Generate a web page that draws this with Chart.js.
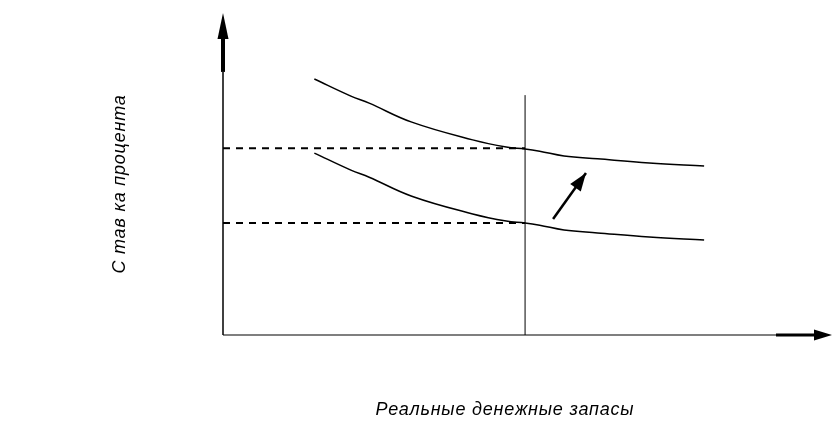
<!DOCTYPE html>
<html>
<head>
<meta charset="utf-8">
<script src="https://cdn.jsdelivr.net/npm/chart.js@4"></script>
<style>
  html, body { margin: 0; padding: 0; background: #fff; }
  #wrap { width: 832px; height: 421px; }
</style>
</head>
<body>
<div id="wrap"><canvas id="chart"></canvas></div>
<script>
// money demand curves (before and after shift), units 0..100 on both axes
const demandX = [15, 21, 24, 31, 41, 46.5, 49.6, 52, 56, 61.5, 70, 79];
const demandHigh = [79.5, 74.2, 72, 66.1, 60.6, 58.4, 57.8, 57.1, 55.6, 54.7, 53.4, 52.5];
const demandLow = [56.5, 51.2, 49, 43.1, 37.6, 35.4, 34.8, 34.1, 32.6, 31.7, 30.4, 29.5];
const supplyX = 49.6;
const supplyTop = 74.5;
const rateLevels = [58, 34.8];
const shiftFrom = [54.2, 36.0];
const shiftTo = [59.6, 50.3];
const xTitle = 'Реальные денежные запасы';
const yTitle = 'С тав ка процента';

const pts = (xs, ys) => xs.map((x, i) => ({ x, y: ys[i] }));

const line = (data, extra) => Object.assign({
    data,
    borderColor: '#000',
    borderWidth: 1.5,
    pointRadius: 0,
    fill: false,
    clip: false,
}, extra);

const datasets = [
    line(pts(demandX, demandHigh), { tension: 0.4 }),
    line(pts(demandX, demandLow), { tension: 0.4 }),
    line([{ x: supplyX, y: 0 }, { x: supplyX, y: supplyTop }], { borderWidth: 1 }),
    ...rateLevels.map((r) => line([{ x: 0, y: r }, { x: supplyX, y: r }], { borderDash: [7, 6], borderWidth: 2 })),
    line([{ x: shiftFrom[0], y: shiftFrom[1] }, { x: shiftTo[0], y: shiftTo[1] }], { borderWidth: 2.5 }),
];

function arrowHead(ctx, x0, y0, x1, y1, len, half) {
    const a = Math.atan2(y1 - y0, x1 - x0);
    ctx.beginPath();
    ctx.moveTo(x1, y1);
    ctx.lineTo(x1 - len * Math.cos(a) + half * Math.sin(a), y1 - len * Math.sin(a) - half * Math.cos(a));
    ctx.lineTo(x1 - len * Math.cos(a) - half * Math.sin(a), y1 - len * Math.sin(a) + half * Math.cos(a));
    ctx.closePath();
    ctx.fill();
}

const axesPlugin = {
    id: 'axes',
    afterDatasetsDraw(chart) {
        const { ctx, scales: { x, y } } = chart;
        const px = (v) => x.getPixelForValue(v);
        const py = (v) => y.getPixelForValue(v);
        ctx.save();
        ctx.strokeStyle = '#000';
        ctx.fillStyle = '#000';
        ctx.lineCap = 'butt';

        // vertical axis
        ctx.lineWidth = 1.5;
        ctx.beginPath();
        ctx.moveTo(px(0), py(0));
        ctx.lineTo(px(0), py(81.7));
        ctx.stroke();
        ctx.lineWidth = 4;
        ctx.beginPath();
        ctx.moveTo(px(0), py(81.7));
        ctx.lineTo(px(0), py(93));
        ctx.stroke();
        arrowHead(ctx, px(0), py(90), px(0), py(100), 26, 5.5);

        // horizontal axis
        ctx.lineWidth = 1.2;
        ctx.beginPath();
        ctx.moveTo(px(0), py(0));
        ctx.lineTo(px(90.8), py(0));
        ctx.stroke();
        ctx.lineWidth = 3;
        ctx.beginPath();
        ctx.moveTo(px(90.8), py(0));
        ctx.lineTo(px(97.5), py(0));
        ctx.stroke();
        arrowHead(ctx, px(95), py(0), px(100), py(0), 18, 5.5);

        // shift arrow head
        arrowHead(ctx, px(shiftFrom[0]), py(shiftFrom[1]), px(shiftTo[0]), py(shiftTo[1]), 18, 6.5);

        // titles
        ctx.font = 'italic 18px "Liberation Sans", Arial, sans-serif';
        ctx.letterSpacing = '0.8px';
        ctx.textAlign = 'center';
        ctx.textBaseline = 'middle';
        ctx.fillText(xTitle, 505, 410);
        ctx.translate(120, 184);
        ctx.rotate(-Math.PI / 2);
        ctx.fillText(yTitle, 0, 0);
        ctx.restore();
    },
};

new Chart(document.getElementById('chart'), {
    type: 'line',
    data: { datasets },
    options: {
        responsive: true,
        maintainAspectRatio: false,
        animation: false,
        events: [],
        layout: { padding: { left: 223, right: 0, top: 13, bottom: 86 } },
        plugins: { legend: { display: false }, tooltip: { enabled: false } },
        scales: {
            x: { type: 'linear', min: 0, max: 100, display: false },
            y: { type: 'linear', min: 0, max: 100, display: false },
        },
    },
    plugins: [axesPlugin],
});
</script>
</body>
</html>
